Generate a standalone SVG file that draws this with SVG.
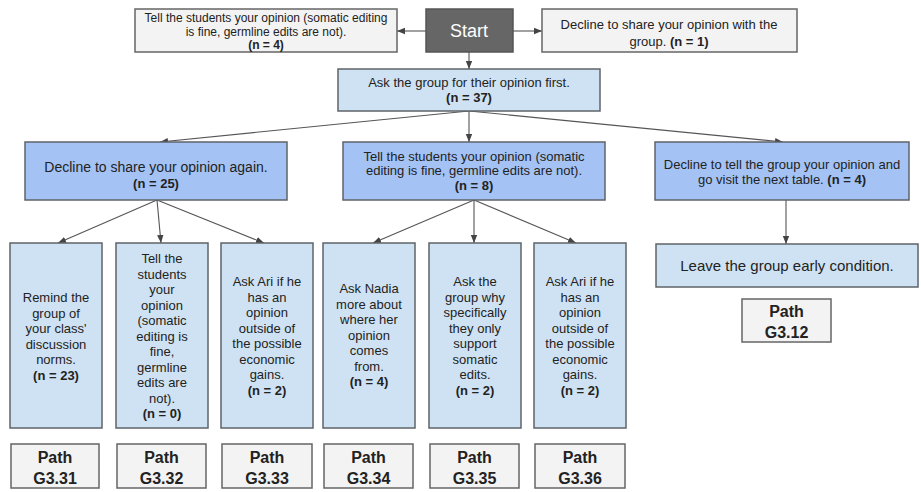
<svg xmlns="http://www.w3.org/2000/svg" width="921" height="492" viewBox="0 0 921 492">
  <defs>
    <marker id="arrow" markerUnits="userSpaceOnUse" markerWidth="8" markerHeight="8" refX="8" refY="4" orient="auto">
      <path d="M0,0.8 L8,4 L0,7.2 Z" fill="#444"/>
    </marker>
    <style>
      .grey { fill: #f3f3f3; stroke: #666; stroke-width: 1.5; }
      .start { fill: #666; stroke: #555; stroke-width: 1.5; }
      .pale { fill: #cfe2f3; stroke: #5f6368; stroke-width: 1.5; }
      .mid { fill: #a4c2f4; stroke: #5f6368; stroke-width: 1.5; }
      text { font-family: "Liberation Sans", Arial, sans-serif; fill: #222; text-anchor: middle; }
      .b { font-weight: bold; }
      .t12 { font-size: 12px; }
      .t13 { font-size: 13px; }
      .t14 { font-size: 14px; }
      .t15 { font-size: 15px; }
      .path { font-size: 16px; font-weight: bold; }
      .edge { stroke: #555; stroke-width: 1.1; fill: none; marker-end: url(#arrow); }
    </style>
  </defs>

  <rect width="921" height="492" fill="#ffffff"/>

  <!-- connectors -->
  <g id="connectors">
    <line class="edge" x1="426" y1="31" x2="397" y2="31"/>
    <line class="edge" x1="513" y1="31" x2="542" y2="31"/>
    <line class="edge" x1="469" y1="52" x2="469" y2="69"/>
    <line class="edge" x1="469" y1="111" x2="160" y2="142"/>
    <line class="edge" x1="469" y1="111" x2="469" y2="142"/>
    <line class="edge" x1="469" y1="111" x2="783" y2="142"/>
    <line class="edge" x1="157" y1="200" x2="58" y2="243"/>
    <line class="edge" x1="157" y1="200" x2="161" y2="243"/>
    <line class="edge" x1="157" y1="200" x2="264" y2="243"/>
    <line class="edge" x1="474" y1="200" x2="373" y2="243"/>
    <line class="edge" x1="474" y1="200" x2="474" y2="243"/>
    <line class="edge" x1="474" y1="200" x2="576" y2="243"/>
    <line class="edge" x1="786" y1="200" x2="786" y2="244"/>
  </g>

  <!-- top row -->
  <g id="tell-top">
    <rect class="grey" x="135" y="9" width="262" height="43"/>
    <text class="t12" x="266" y="22">Tell the students your opinion (somatic editing</text>
    <text class="t12" x="266" y="36">is fine, germline edits are not).</text>
    <text class="t12 b" x="266" y="49">(n = 4)</text>
  </g>
  <g id="start">
    <rect class="start" x="426" y="9" width="87" height="43"/>
    <text x="469" y="37" style="font-size:18px;fill:#ffffff">Start</text>
  </g>
  <g id="decline-top">
    <rect class="grey" x="542" y="9" width="255" height="43"/>
    <text class="t13" x="669" y="29">Decline to share your opinion with the</text>
    <text class="t13" x="669" y="46">group. <tspan class="b">(n = 1)</tspan></text>
  </g>

  <g id="ask-group">
    <rect class="pale" x="338" y="69" width="262" height="42"/>
    <text class="t13" x="469" y="87">Ask the group for their opinion first.</text>
    <text class="t13 b" x="469" y="102">(n = 37)</text>
  </g>

  <!-- second row -->
  <g id="decline-again">
    <rect class="mid" x="25" y="142" width="262" height="58"/>
    <text class="t14" x="156" y="172">Decline to share your opinion again.</text>
    <text class="t13 b" x="156" y="188">(n = 25)</text>
  </g>
  <g id="tell-mid">
    <rect class="mid" x="343" y="142" width="262" height="58"/>
    <text class="t13" x="474" y="161">Tell the students your opinion (somatic</text>
    <text class="t13" x="474" y="175">editing is fine, germline edits are not).</text>
    <text class="t13 b" x="474" y="190">(n = 8)</text>
  </g>
  <g id="decline-leave">
    <rect class="mid" x="655" y="142" width="254" height="58"/>
    <text class="t13" x="782" y="169">Decline to tell the group your opinion and</text>
    <text class="t13" x="782" y="184">go visit the next table. <tspan class="b">(n = 4)</tspan></text>
  </g>

  <!-- third row -->
  <g id="remind">
    <rect class="pale" x="10" y="243" width="92" height="185"/>
    <text class="t13" x="56" y="302">Remind the</text>
    <text class="t13" x="56" y="317.5">group of</text>
    <text class="t13" x="56" y="333">your class'</text>
    <text class="t13" x="56" y="348.5">discussion</text>
    <text class="t13" x="56" y="364">norms.</text>
    <text class="t13 b" x="56" y="379.5">(n = 23)</text>
  </g>
  <g id="tell-low">
    <rect class="pale" x="116" y="243" width="92" height="185"/>
    <text class="t13" x="162" y="263">Tell the</text>
    <text class="t13" x="162" y="278.5">students</text>
    <text class="t13" x="162" y="294">your</text>
    <text class="t13" x="162" y="309.5">opinion</text>
    <text class="t13" x="162" y="325">(somatic</text>
    <text class="t13" x="162" y="340.5">editing is</text>
    <text class="t13" x="162" y="356">fine,</text>
    <text class="t13" x="162" y="371.5">germline</text>
    <text class="t13" x="162" y="387">edits are</text>
    <text class="t13" x="162" y="402.5">not).</text>
    <text class="t13 b" x="162" y="418">(n = 0)</text>
  </g>
  <g id="ask-ari-1">
    <rect class="pale" x="221" y="243" width="92" height="185"/>
    <text class="t13" x="267" y="286">Ask Ari if he</text>
    <text class="t13" x="267" y="301.5">has an</text>
    <text class="t13" x="267" y="317">opinion</text>
    <text class="t13" x="267" y="332.5">outside of</text>
    <text class="t13" x="267" y="348">the possible</text>
    <text class="t13" x="267" y="363.5">economic</text>
    <text class="t13" x="267" y="379">gains.</text>
    <text class="t13 b" x="267" y="394.5">(n = 2)</text>
  </g>
  <g id="ask-nadia">
    <rect class="pale" x="323" y="243" width="92" height="185"/>
    <text class="t13" x="369" y="293">Ask Nadia</text>
    <text class="t13" x="369" y="308.5">more about</text>
    <text class="t13" x="369" y="324">where her</text>
    <text class="t13" x="369" y="339.5">opinion</text>
    <text class="t13" x="369" y="355">comes</text>
    <text class="t13" x="369" y="370.5">from.</text>
    <text class="t13 b" x="369" y="386">(n = 4)</text>
  </g>
  <g id="ask-why">
    <rect class="pale" x="429" y="243" width="92" height="185"/>
    <text class="t13" x="475" y="286">Ask the</text>
    <text class="t13" x="475" y="301.5">group why</text>
    <text class="t13" x="475" y="317">specifically</text>
    <text class="t13" x="475" y="332.5">they only</text>
    <text class="t13" x="475" y="348">support</text>
    <text class="t13" x="475" y="363.5">somatic</text>
    <text class="t13" x="475" y="379">edits.</text>
    <text class="t13 b" x="475" y="394.5">(n = 2)</text>
  </g>
  <g id="ask-ari-2">
    <rect class="pale" x="534" y="243" width="92" height="185"/>
    <text class="t13" x="580" y="286">Ask Ari if he</text>
    <text class="t13" x="580" y="301.5">has an</text>
    <text class="t13" x="580" y="317">opinion</text>
    <text class="t13" x="580" y="332.5">outside of</text>
    <text class="t13" x="580" y="348">the possible</text>
    <text class="t13" x="580" y="363.5">economic</text>
    <text class="t13" x="580" y="379">gains.</text>
    <text class="t13 b" x="580" y="394.5">(n = 2)</text>
  </g>
  <g id="leave-early">
    <rect class="pale" x="656" y="244" width="262" height="43"/>
    <text class="t15" x="787" y="271">Leave the group early condition.</text>
  </g>

  <!-- path labels -->
  <g id="path-g3-12">
    <rect class="grey" x="742" y="299" width="89" height="43"/>
    <text class="path" x="786.5" y="317">Path</text>
    <text class="path" x="786.5" y="338">G3.12</text>
  </g>
  <g id="path-g3-31">
    <rect class="grey" x="11" y="444" width="88" height="44"/>
    <text class="path" x="55" y="463">Path</text>
    <text class="path" x="55" y="484">G3.31</text>
  </g>
  <g id="path-g3-32">
    <rect class="grey" x="117" y="444" width="89" height="44"/>
    <text class="path" x="161.5" y="463">Path</text>
    <text class="path" x="161.5" y="484">G3.32</text>
  </g>
  <g id="path-g3-33">
    <rect class="grey" x="222" y="444" width="90" height="44"/>
    <text class="path" x="267" y="463">Path</text>
    <text class="path" x="267" y="484">G3.33</text>
  </g>
  <g id="path-g3-34">
    <rect class="grey" x="324" y="444" width="89" height="44"/>
    <text class="path" x="368.5" y="463">Path</text>
    <text class="path" x="368.5" y="484">G3.34</text>
  </g>
  <g id="path-g3-35">
    <rect class="grey" x="430" y="444" width="89" height="44"/>
    <text class="path" x="474.5" y="463">Path</text>
    <text class="path" x="474.5" y="484">G3.35</text>
  </g>
  <g id="path-g3-36">
    <rect class="grey" x="535" y="444" width="90" height="44"/>
    <text class="path" x="580" y="463">Path</text>
    <text class="path" x="580" y="484">G3.36</text>
  </g>
</svg>
